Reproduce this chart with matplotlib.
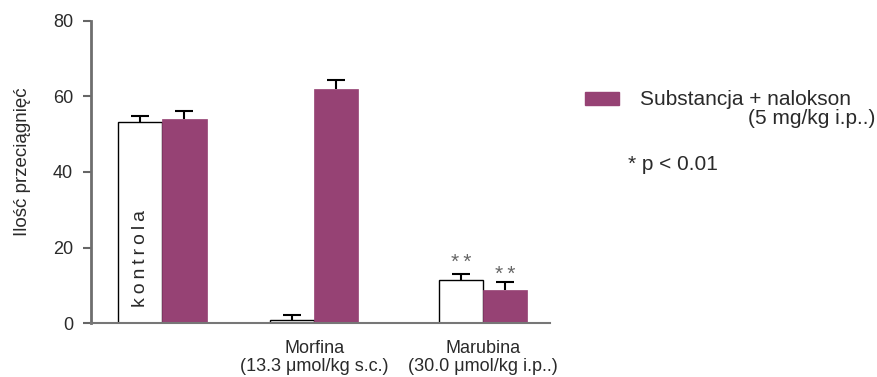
import numpy as np
import matplotlib
matplotlib.use("Agg")
import matplotlib.pyplot as plt
from matplotlib.patches import Rectangle

plt.rcParams['font.family'] = ['Liberation Sans', 'DejaVu Sans']

# data
groups = ["", "Morfina\n(13.3 \u03bcmol/kg s.c.)", "Marubina\n(30.0 \u03bcmol/kg i.p..)"]
substancja = [53.2, 1.0, 11.5]
substancja_err = [1.7, 1.2, 1.5]
nalokson = [54.0, 62.0, 8.8]
nalokson_err = [2.2, 2.4, 2.1]
stars_substancja = ["", "", "*\u2009*"]
stars_nalokson = ["", "", "*\u2009*"]

purple = '#964274'
txt = '#2a2a2a'

fig = plt.figure(figsize=(8.78, 3.77), dpi=100)
ax = fig.add_axes([91 / 878, 1 - 323.3 / 377, 459 / 878, 302.6 / 377])

x = np.array([0, 1, 2.11])
w = 0.29

ax.bar(x - w / 2, substancja, w, color='white', edgecolor='black', linewidth=1, zorder=2)
ax.bar(x + w / 2, nalokson, w, color=purple, edgecolor=purple, linewidth=0.5, zorder=2)
for xs, vals, errs in [(x - w / 2, substancja, substancja_err),
                       (x + w / 2, nalokson, nalokson_err)]:
    eb = ax.errorbar(xs, vals, yerr=[np.zeros(3), errs], fmt='none',
                     ecolor='black', elinewidth=1.5, capsize=6.5, capthick=1.5, zorder=3)
    eb[1][0].set_visible(False)  # no cap at the bar top

for xi, v, e, s in zip(x - w / 2, substancja, substancja_err, stars_substancja):
    if s:
        ax.text(xi, v + e + 3.0, s, ha='center', va='center', fontsize=15, color='#666666')
for xi, v, e, s in zip(x + w / 2, nalokson, nalokson_err, stars_nalokson):
    if s:
        ax.text(xi, v + e + 2.0, s, ha='center', va='center', fontsize=15, color='#666666')

ax.text(x[0] - w / 2, 17.1, "\u2009".join("kontrola"), rotation=90, ha='center', va='center',
        fontsize=14, color=txt)

ax.set_xlim(-0.47, 2.55)
ax.set_ylim(0, 80)
ax.set_yticks([0, 20, 40, 60, 80])
ax.set_xticks(x)
ax.set_xticklabels(groups, fontsize=13, color=txt, linespacing=1.05)
ax.tick_params(axis='x', length=0, pad=12)
ax.tick_params(axis='y', length=6, width=1.5, color='#666666', pad=7,
               labelsize=13, labelcolor=txt)

for side in ['top', 'right']:
    ax.spines[side].set_visible(False)
ax.spines['left'].set_color('#6e6e6e')
ax.spines['left'].set_linewidth(2)
ax.spines['bottom'].set_color('#777777')
ax.spines['bottom'].set_linewidth(1.5)

fig.text(23 / 878, 1 - 162 / 377, "Ilość przeciągnięć", rotation=90,
         ha='center', va='center', fontsize=13.5, color=txt)

# legend drawn by hand
fig.patches.append(Rectangle((585 / 878, 1 - 105 / 377), 34 / 878, 13 / 377,
                             transform=fig.transFigure, color=purple))
fig.text(640 / 878, 1 - 105 / 377, "Substancja + nalokson", ha='left', va='baseline',
         fontsize=15, color=txt)
fig.text(875 / 878, 1 - 124 / 377, "(5 mg/kg i.p..)", ha='right', va='baseline',
         fontsize=15, color=txt)
fig.text(628 / 878, 1 - 170 / 377, "* p < 0.01", ha='left', va='baseline',
         fontsize=15, color=txt)

fig.savefig('out.png', dpi=100)
